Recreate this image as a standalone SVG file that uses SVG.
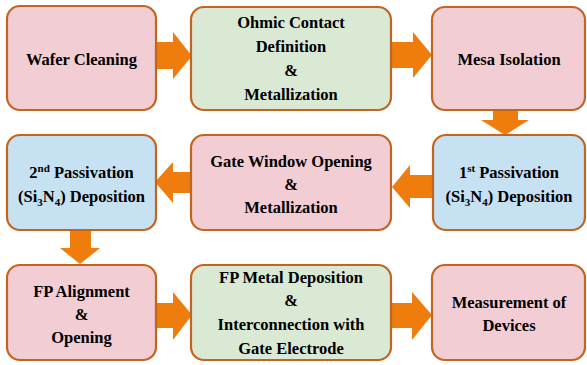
<svg xmlns="http://www.w3.org/2000/svg" width="587" height="365" viewBox="0 0 587 365">
<defs>
<linearGradient id="unused"><stop offset="0" stop-color="#ffffff"/></linearGradient>
</defs>
<rect width="587" height="365" fill="#ffffff"/>
<g id="connectors" fill="#ef7d0e">
<polygon points="156,42 173,42 173,32 192,56 173,79 173,69 156,69"/>
<polygon points="391,42 413,42 413,32 432,55 413,78 413,68 391,68"/>
<polygon points="493,110 518,110 518,120 529,120 505,135 481,120 493,120"/>
<polygon points="433,175 410,175 410,165 392,187 410,208 410,198 433,198"/>
<polygon points="191,172 173,172 173,162 155,182 173,203 173,193 191,193"/>
<polygon points="70,230 91,230 91,248 100,248 80,264 60,248 70,248"/>
<polygon points="156,303 173,303 173,292 192,315 173,340 173,328 156,328"/>
<polygon points="391,303 412,303 412,292 432,315 412,340 412,328 391,328"/>
</g>
<g id="n1"><rect x="7" y="6" width="149" height="104" rx="13" fill="#f2cdd3" stroke="#c4651f" stroke-width="2.2"/>
<text x="81.5" y="65" font-family="Liberation Serif" font-weight="bold" font-size="16.5" text-anchor="middle">Wafer Cleaning</text></g>
<g id="n2"><rect x="191" y="7" width="200" height="103" rx="13" fill="#d9e9d3" stroke="#c4651f" stroke-width="2.2"/>
<text x="291" y="28" font-family="Liberation Serif" font-weight="bold" font-size="16.5" text-anchor="middle">Ohmic Contact</text>
<text x="291" y="52" font-family="Liberation Serif" font-weight="bold" font-size="16.5" text-anchor="middle">Definition</text>
<text x="291" y="76" font-family="Liberation Serif" font-weight="bold" font-size="16.5" text-anchor="middle">&amp;</text>
<text x="291" y="100" font-family="Liberation Serif" font-weight="bold" font-size="16.5" text-anchor="middle">Metallization</text></g>
<g id="n3"><rect x="432" y="7" width="153" height="103" rx="13" fill="#f2cdd3" stroke="#c4651f" stroke-width="2.2"/>
<text x="509" y="65" font-family="Liberation Serif" font-weight="bold" font-size="16.5" text-anchor="middle">Mesa Isolation</text></g>
<g id="n4"><rect x="433" y="135" width="152" height="95" rx="13" fill="#c6e1f1" stroke="#c4651f" stroke-width="2.2"/>
<text x="509" y="178" font-family="Liberation Serif" font-weight="bold" font-size="16.5" text-anchor="middle">1<tspan font-size="11" dy="-6">st</tspan><tspan dy="6"> Passivation</tspan></text>
<text x="509" y="202" font-family="Liberation Serif" font-weight="bold" font-size="16.5" text-anchor="middle">(Si<tspan font-size="11" dy="4">3</tspan><tspan dy="-4">N</tspan><tspan font-size="11" dy="4">4</tspan><tspan dy="-4">) Deposition</tspan></text></g>
<g id="n5"><rect x="191" y="135" width="200" height="95" rx="13" fill="#f2cdd3" stroke="#c4651f" stroke-width="2.2"/>
<text x="291" y="167" font-family="Liberation Serif" font-weight="bold" font-size="16.5" text-anchor="middle">Gate Window Opening</text>
<text x="291" y="190" font-family="Liberation Serif" font-weight="bold" font-size="16.5" text-anchor="middle">&amp;</text>
<text x="291" y="213" font-family="Liberation Serif" font-weight="bold" font-size="16.5" text-anchor="middle">Metallization</text></g>
<g id="n6"><rect x="7" y="135" width="149" height="95" rx="13" fill="#c6e1f1" stroke="#c4651f" stroke-width="2.2"/>
<text x="81.5" y="178" font-family="Liberation Serif" font-weight="bold" font-size="16.5" text-anchor="middle">2<tspan font-size="11" dy="-6">nd</tspan><tspan dy="6"> Passivation</tspan></text>
<text x="81.5" y="202" font-family="Liberation Serif" font-weight="bold" font-size="16.5" text-anchor="middle">(Si<tspan font-size="11" dy="4">3</tspan><tspan dy="-4">N</tspan><tspan font-size="11" dy="4">4</tspan><tspan dy="-4">) Deposition</tspan></text></g>
<g id="n7"><rect x="7" y="265" width="149" height="95" rx="13" fill="#f2cdd3" stroke="#c4651f" stroke-width="2.2"/>
<text x="81.5" y="297" font-family="Liberation Serif" font-weight="bold" font-size="16.5" text-anchor="middle">FP Alignment</text>
<text x="81.5" y="320" font-family="Liberation Serif" font-weight="bold" font-size="16.5" text-anchor="middle">&amp;</text>
<text x="81.5" y="343" font-family="Liberation Serif" font-weight="bold" font-size="16.5" text-anchor="middle">Opening</text></g>
<g id="n8"><rect x="191" y="265" width="200" height="95" rx="13" fill="#d9e9d3" stroke="#c4651f" stroke-width="2.2"/>
<text x="291" y="283" font-family="Liberation Serif" font-weight="bold" font-size="16.5" text-anchor="middle">FP Metal Deposition</text>
<text x="291" y="306" font-family="Liberation Serif" font-weight="bold" font-size="16.5" text-anchor="middle">&amp;</text>
<text x="291" y="330" font-family="Liberation Serif" font-weight="bold" font-size="16.5" text-anchor="middle">Interconnection with</text>
<text x="291" y="354" font-family="Liberation Serif" font-weight="bold" font-size="16.5" text-anchor="middle">Gate Electrode</text></g>
<g id="n9"><rect x="432" y="265" width="153" height="95" rx="13" fill="#f2cdd3" stroke="#c4651f" stroke-width="2.2"/>
<text x="509" y="308" font-family="Liberation Serif" font-weight="bold" font-size="16.5" text-anchor="middle">Measurement of</text>
<text x="509" y="331" font-family="Liberation Serif" font-weight="bold" font-size="16.5" text-anchor="middle">Devices</text></g>
</svg>
